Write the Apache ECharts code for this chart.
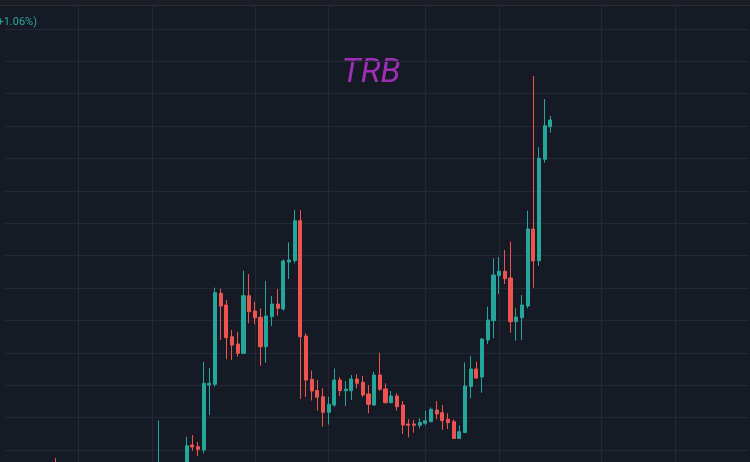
<!DOCTYPE html>
<html>
<head>
<meta charset="utf-8">
<script src="https://cdn.jsdelivr.net/npm/echarts@6/dist/echarts.min.js"></script>
<style>
html,body{margin:0;padding:0;background:#161a25;}
#chart{width:750px;height:462px;}
</style>
</head>
<body>
<div id="chart"></div>
<script>
// ---- data (price units) ----
const axisStart = '2023-07-19';
const axisDays = 132;

const candleDates = [
  '2023-07-28','2023-08-15',
  '2023-08-20','2023-08-21','2023-08-22','2023-08-23','2023-08-24','2023-08-25','2023-08-26','2023-08-27',
  '2023-08-28','2023-08-29','2023-08-30','2023-08-31',
  '2023-09-01','2023-09-02','2023-09-03','2023-09-04','2023-09-05','2023-09-06','2023-09-07','2023-09-08',
  '2023-09-09','2023-09-10','2023-09-11','2023-09-12','2023-09-13','2023-09-14','2023-09-15','2023-09-16',
  '2023-09-17','2023-09-18','2023-09-19','2023-09-20','2023-09-21','2023-09-22','2023-09-23','2023-09-24',
  '2023-09-25','2023-09-26','2023-09-27','2023-09-28','2023-09-29','2023-09-30',
  '2023-10-01','2023-10-02','2023-10-03','2023-10-04','2023-10-05','2023-10-06','2023-10-07','2023-10-08',
  '2023-10-09','2023-10-10','2023-10-11','2023-10-12','2023-10-13','2023-10-14','2023-10-15','2023-10-16',
  '2023-10-17','2023-10-18','2023-10-19','2023-10-20','2023-10-21','2023-10-22','2023-10-23'
];
const opens = [
  16.0, 14.5,
  15.8, 21.54, 21.02, 20.00, 40.06, 40.28, 68.36, 64.75,
  54.97, 52.72, 49.85, 67.62,
  62.90, 60.96, 51.88, 61.14, 65.06, 63.52, 78.02, 78.43,
  90.77, 55.19, 41.82, 38.36, 36.45, 31.64, 33.89, 41.60,
  38.30, 38.30, 41.91, 40.90, 37.28, 33.89, 43.15, 38.83,
  34.60, 36.67, 33.89, 28.02, 28.02, 27.62,
  28.24, 28.73, 32.35, 31.51, 29.48, 28.73, 23.55, 25.40,
  39.60, 45.00, 42.53, 53.95, 59.91, 73.80, 75.15, 73.09,
  59.60, 60.83, 64.44, 88.21, 78.43, 109.72, 119.78
];
const closes = [
  15.6, 15.5,
  21.33, 20.93, 20.22, 40.59, 40.59, 68.55, 64.44, 54.66,
  52.41, 49.85, 67.62, 62.69,
  60.83, 51.88, 61.36, 65.06, 63.73, 78.33, 78.64, 90.77,
  54.97, 41.60, 38.21, 36.27, 31.64, 34.10, 41.60, 38.30,
  38.83, 41.91, 40.59, 36.98, 34.10, 43.15, 38.73, 34.60,
  36.67, 33.36, 27.72, 27.62, 27.62, 28.49,
  29.04, 32.56, 31.11, 29.04, 28.43, 23.55, 25.65, 39.75,
  45.00, 42.22, 54.26, 60.12, 74.01, 75.15, 72.87, 59.60,
  61.05, 64.75, 88.21, 78.33, 110.03, 120.09, 121.85
];
const lows = [
  15.2, 14.0,
  15.3, 19.78, 18.15, 18.98, 30.80, 39.54, 53.95, 47.99,
  47.78, 48.80, 49.60, 59.10,
  58.80, 46.02, 46.94, 58.27, 61.45, 62.99, 72.78, 77.62,
  35.74, 36.36, 35.28, 32.13, 27.19, 27.87, 33.30, 36.67,
  33.58, 35.43, 39.04, 36.27, 31.33, 33.60, 38.30, 34.41,
  34.41, 32.13, 24.94, 23.92, 25.34, 26.70,
  27.62, 28.60, 29.48, 26.17, 26.48, 23.40, 23.40, 25.25,
  35.96, 41.91, 37.69, 52.72, 54.48, 68.15, 71.23, 56.20,
  53.73, 53.95, 63.73, 70.09, 76.79, 108.67, 117.93
];
const highs = [
  17.5, 29.1,
  24.10, 24.63, 22.47, 47.25, 45.31, 70.09, 69.78, 66.30,
  57.04, 56.51, 75.34, 74.32,
  65.77, 63.73, 72.16, 67.53, 69.69, 78.86, 84.10, 94.07,
  94.07, 56.02, 44.54, 41.60, 39.04, 36.45, 45.15, 42.44,
  41.30, 43.15, 43.36, 42.84, 40.06, 44.17, 50.03, 40.59,
  38.21, 37.50, 35.12, 29.48, 29.26, 29.78,
  32.13, 33.12, 35.12, 33.89, 31.33, 29.41, 27.56, 47.01,
  49.01, 47.25, 54.57, 64.23, 79.17, 79.57, 81.73, 84.29,
  63.73, 67.84, 93.86, 135.43, 113.43, 128.33, 123.09
];
const priceMin = 20, priceMax = 150, priceStep = 10;
const gridDaysOfMonth = [1, 14];
const symbolName = 'TRB';
const changeText = '+1.06%)';

// ---- build ----
function fmt(d){ return d.toISOString().slice(0,10); }
const categories = [];
{
  const d0 = new Date(axisStart + 'T00:00:00Z');
  for (let i = 0; i < axisDays; i++) {
    categories.push(fmt(new Date(d0.getTime() + i*86400000)));
  }
}
const seriesData = categories.map(() => '-');
candleDates.forEach((dt, k) => {
  const idx = categories.indexOf(dt);
  if (idx >= 0) seriesData[idx] = [opens[k], closes[k], lows[k], highs[k]];
});

const UP = '#26a69a', DOWN = '#ef5350', GRID = '#242835';
const isGridDay = (i, v) => gridDaysOfMonth.indexOf(+String(v).slice(8,10)) >= 0;
const STEP = 5.682;
const plotW = STEP * (axisDays - 1);

const chart = echarts.init(document.getElementById('chart'), null, {renderer:'canvas'});
chart.setOption({
  backgroundColor: '#161a25',
  animation: false,
  grid: [
    {left: 4.84, width: plotW, top: 28.8, height: 421.2},
    {left: 4.84, width: plotW, top: 5, bottom: 0}
  ],
  xAxis: [
    {type:'category', gridIndex:0, data: categories, boundaryGap:false,
     axisLine:{show:false}, axisTick:{show:false}, axisLabel:{show:false}, splitLine:{show:false}},
    {type:'category', gridIndex:1, data: categories, boundaryGap:false,
     axisLine:{show:false}, axisTick:{show:false}, axisLabel:{show:false},
     splitLine:{show:true, interval: isGridDay, lineStyle:{color:GRID, width:1}}}
  ],
  yAxis: [
    {type:'value', gridIndex:0, min:priceMin, max:priceMax, interval:priceStep,
     axisLine:{show:false}, axisTick:{show:false}, axisLabel:{show:false},
     splitLine:{show:true, lineStyle:{color:GRID, width:1}}},
    {type:'value', gridIndex:1, min:0, max:1,
     axisLine:{show:false}, axisTick:{show:false}, axisLabel:{show:false}, splitLine:{show:false}}
  ],
  series: [{
    type:'candlestick',
    xAxisIndex:0, yAxisIndex:0,
    data: seriesData,
    clip: false,
    barWidth: 3.6,
    itemStyle: {color:UP, color0:DOWN, borderColor:UP, borderColor0:DOWN, borderWidth:1}
  }],
  graphic: [
    {type:'rect', shape:{x:0, y:0, width:750, height:5}, style:{fill:'#1c1e25'}, z:-1, silent:true},
    {type:'line', shape:{x1:0, y1:5.5, x2:750, y2:5.5}, style:{stroke:'#2a2d36', lineWidth:1}, silent:true},
    {type:'text', x:371, y:73.5, style:{text:symbolName, fill:'#9c2fb3', font:'italic 33px Roboto, "Noto Sans", sans-serif', align:'center', verticalAlign:'middle'}, silent:true},
    {type:'text', x:37, y:22.5, style:{text:changeText, fill:UP, font:'11px Roboto, "Noto Sans", sans-serif', align:'right', verticalAlign:'middle'}, silent:true}
  ]
});
</script>
</body>
</html>
